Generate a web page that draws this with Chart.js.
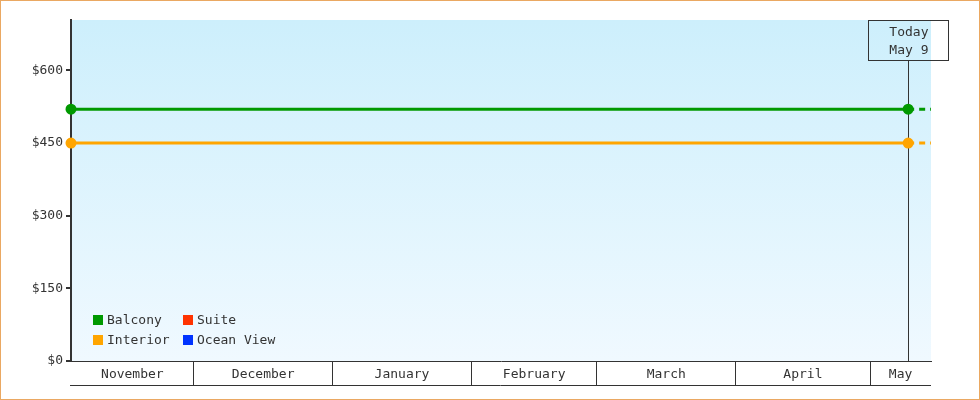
<!DOCTYPE html>
<html>
<head>
<meta charset="utf-8">
<script src="https://cdn.jsdelivr.net/npm/chart.js@4.4.1/dist/chart.umd.min.js"></script>
<style>
html, body { margin: 0; padding: 0; background: #fff; }
</style>
</head>
<body>
<canvas id="canvas" width="980" height="400"></canvas>
<script>
// Месяцы и их начала (дни от 1 ноября).
const months = ['November', 'December', 'January', 'February', 'March', 'April', 'May']
const monthStarts = [0, 30, 61, 92, 120, 151, 181]

// Границы оси X и сегодняшний день (в днях от 1 ноября).
const xMin = 2.6
const xMax = 194.6
const today = 189.5
const todayLabel = ['Today', 'May 9']

// Точки серий: начало, сегодня, конец (пунктир).
const pointDays = [xMin, today, xMax]
const balcony = [520, 520, 520]
const interior = [450, 450, 450]
const suite = []
const oceanView = []

// Ось Y.
const yTicks = [0, 150, 300, 450, 600]
const yMax = 704

const FONT = "'DejaVu Sans Mono', 'Liberation Mono', monospace"
const DARK = '#333'

Chart.defaults.font.family = FONT
Chart.defaults.font.size = 13
Chart.defaults.color = DARK

function series(label, color, values) {
    return {
        label: label,
        data: values.map((v, i) => ({ x: pointDays[i], y: v })),
        borderColor: color,
        backgroundColor: color,
        borderWidth: 3,
        pointRadius: values.map((v, i) => i < 2 ? 4 : 0),
        pointHoverRadius: 0,
        clip: false,
        segment: {
            borderDash: ctx => ctx.p0DataIndex === 1 ? [6, 5] : undefined,
        },
    }
}

// Фон области графика, полоса месяцев, отметка «сегодня», легенда, рамка.
const decor = {
    id: 'decor',
    beforeDraw(chart) {
        const { ctx, chartArea: a } = chart
        const g = ctx.createLinearGradient(0, a.top, 0, a.bottom)
        g.addColorStop(0, '#cdeffc')
        g.addColorStop(1, '#f0f9ff')
        ctx.save()
        ctx.fillStyle = g
        ctx.fillRect(a.left, a.top, a.right - a.left, a.bottom - a.top)
        ctx.restore()
    },
    beforeDatasetsDraw(chart) {
        const { ctx, chartArea: a, scales } = chart
        const px = Math.round(scales.x.getPixelForValue(today)) + 0.5
        ctx.save()
        ctx.strokeStyle = DARK
        ctx.lineWidth = 1
        ctx.strokeRect(px - 40, a.top + 0.5, 80, 40)
        ctx.beginPath()
        ctx.moveTo(px, a.top + 40.5)
        ctx.lineTo(px, a.bottom)
        ctx.stroke()
        ctx.fillStyle = DARK
        ctx.font = '13px ' + FONT
        ctx.textAlign = 'right'
        ctx.textBaseline = 'middle'
        ctx.fillText(todayLabel[0], px + 20, a.top + 13)
        ctx.fillText(todayLabel[1], px + 20, a.top + 31)
        ctx.restore()
    },
    afterDraw(chart) {
        const { ctx, chartArea: a, scales } = chart
        ctx.save()
        // Нижняя линия полосы месяцев.
        ctx.strokeStyle = DARK
        ctx.lineWidth = 1
        ctx.beginPath()
        ctx.moveTo(a.left - 1, a.bottom + 24.5)
        ctx.lineTo(a.right, a.bottom + 24.5)
        ctx.stroke()

        // Подписи месяцев.
        ctx.fillStyle = DARK
        ctx.font = '13px ' + FONT
        ctx.textAlign = 'center'
        ctx.textBaseline = 'middle'
        months.forEach((m, i) => {
            const from = Math.max(monthStarts[i], xMin)
            const to = Math.min(i + 1 < monthStarts.length ? monthStarts[i + 1] : xMax, xMax)
            const mid = (scales.x.getPixelForValue(from) + scales.x.getPixelForValue(to)) / 2
            ctx.fillText(m, mid, a.bottom + 13.5)
        })

        // Легенда (по столбцам).
        chart.data.datasets.forEach((ds, i) => {
            const col = Math.floor(i / 2)
            const row = i % 2
            const x = a.left + 22 + col * 90
            const y = a.bottom - 46 + row * 20
            ctx.fillStyle = ds.borderColor
            ctx.fillRect(x, y, 10, 10)
            ctx.fillStyle = DARK
            ctx.textAlign = 'left'
            ctx.fillText(ds.label, x + 14, y + 6)
        })

        // Рамка.
        ctx.strokeStyle = '#eaa862'
        ctx.strokeRect(0.5, 0.5, chart.width - 1, chart.height - 1)
        ctx.restore()
    },
}

const chart = new Chart(document.querySelector('#canvas'), {
    type: 'line',
    data: {
        datasets: [
            series('Balcony', '#009900', balcony),
            series('Interior', '#ffa500', interior),
            series('Suite', '#ff3300', suite),
            series('Ocean View', '#0033ff', oceanView),
        ],
    },
    options: {
        responsive: false,
        animation: false,
        devicePixelRatio: 1,
        layout: { padding: { top: 20, right: 49, left: 0, bottom: 0 } },
        plugins: {
            legend: { display: false },
            tooltip: { enabled: false },
        },
        scales: {
            x: {
                type: 'linear',
                min: xMin,
                max: xMax,
                afterBuildTicks: s => { s.ticks = monthStarts.filter(v => v > xMin && v < xMax).map(v => ({ value: v })) },
                afterFit: s => { s.height = 39 },
                ticks: { display: false },
                grid: { drawOnChartArea: false, tickLength: 24, color: DARK, lineWidth: 1 },
                border: { color: DARK, width: 1 },
            },
            y: {
                min: 0,
                max: yMax,
                afterBuildTicks: s => { s.ticks = yTicks.map(v => ({ value: v })) },
                afterFit: s => { s.width = 71 },
                ticks: { padding: 3, callback: v => '$' + v },
                grid: { drawOnChartArea: false, tickLength: 5, color: DARK, lineWidth: 2 },
                border: { color: DARK, width: 2 },
            },
        },
    },
    plugins: [decor],
})
</script>
</body>
</html>
